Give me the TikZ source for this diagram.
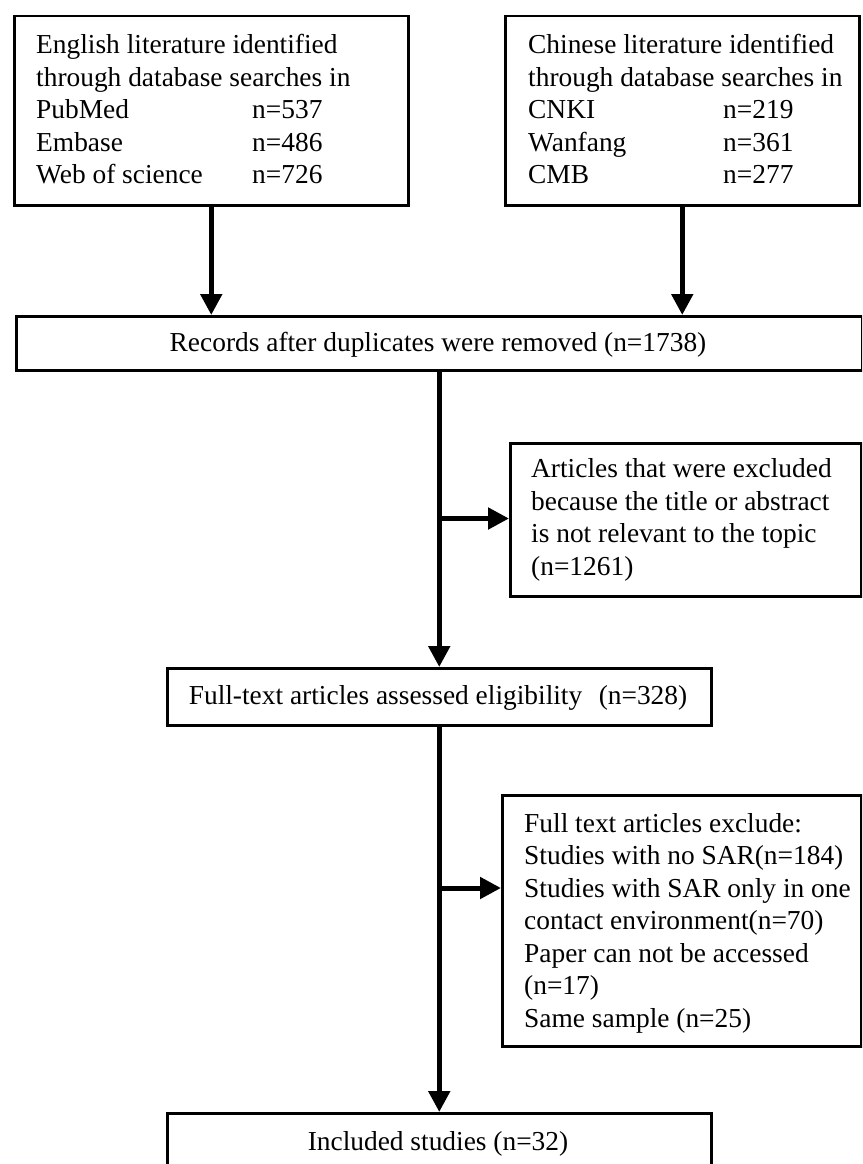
\documentclass[tikz,border=0pt]{standalone}
\usepackage{fontspec}
\setmainfont{Liberation Serif}
\usetikzlibrary{arrows.meta}
\newcommand\mylines[1]{\vtop{\baselineskip=32.5pt\lineskiplimit=-1000pt\lineskip=0pt\halign{##\hfil\cr#1\crcr}}}
\begin{document}
\begin{tikzpicture}[x=1pt,y=-1pt,
  font=\fontsize{27.4}{32.5}\selectfont,
  box/.style={draw, line width=2.5pt, inner sep=0pt, anchor=north west},
  txt/.style={inner sep=0pt, anchor=base west},
  ctxt/.style={inner sep=0pt, anchor=base},
  flow/.style={line width=5pt, -{Triangle[length=21pt 0, width=21pt 0]}}]
\useasboundingbox (0,0) rectangle (862,1164);
\clip (0,0) rectangle (862,1164);
\fill[white] (0,0) rectangle (862,1164);

% boxes
\node[box, minimum width=394pt, minimum height=189pt] (eng) at (13,15) {};
\node[box, minimum width=354pt, minimum height=189pt] (chn) at (504,15) {};
\node[box, minimum width=846pt, minimum height=54pt] (rec) at (15,315) {};
\node[box, minimum width=351pt, minimum height=153pt] (ex1) at (509,442) {};
\node[box, minimum width=544pt, minimum height=57pt] (ft) at (166,667) {};
\node[box, minimum width=359pt, minimum height=251pt] (ex2) at (501,794) {};
\node[box, minimum width=544pt, minimum height=57pt] (inc) at (166,1112) {};

% texts
\node[txt] (engt) at (36,54) {\mylines{English literature identified\cr
through database searches in\cr
\makebox[216pt][l]{PubMed}n=537\cr
\makebox[216pt][l]{Embase}n=486\cr
\makebox[216pt][l]{Web of science}n=726}};
\node[txt] (chnt) at (528,54) {\mylines{Chinese literature identified\cr
through database searches in\cr
\makebox[195pt][l]{CNKI}n=219\cr
\makebox[195pt][l]{Wanfang}n=361\cr
\makebox[195pt][l]{CMB}n=277}};
\node[ctxt] (rect) at (438,351) {Records after duplicates were removed (n=1738)};
\node[txt] (ex1t) at (531,477.5) {\mylines{Articles that were excluded\cr
because the title or abstract\cr
is not relevant to the topic\cr
(n=1261)}};
\node[ctxt] (ftt) at (438,704.5) {Full-text articles assessed eligibility\hspace{0.6em}(n=328)};
\node[txt] (ex2t) at (524,832) {\mylines{Full text articles exclude:\cr
Studies with no SAR(n=184)\cr
Studies with SAR only in one\cr
contact environment(n=70)\cr
Paper can not be accessed\cr
(n=17)\cr
Same sample (n=25)}};
\node[ctxt] (inct) at (438,1150) {Included studies (n=32)};

% connectors
\coordinate (b1) at (438,518.5);
\coordinate (b2) at (438,888);
\draw[flow] (eng.south) -- (eng.south |- rec.north);
\draw[flow] (chn.south) -- (chn.south |- rec.north);
\draw[flow] (rec.south) -- (ft.north);
\draw[flow] (b1) -- (b1 -| ex1.west);
\draw[flow] (b2) -- (b2 -| ex2.west);
\draw[flow] (ft.south) -- (inc.north);
\end{tikzpicture}
\end{document}
